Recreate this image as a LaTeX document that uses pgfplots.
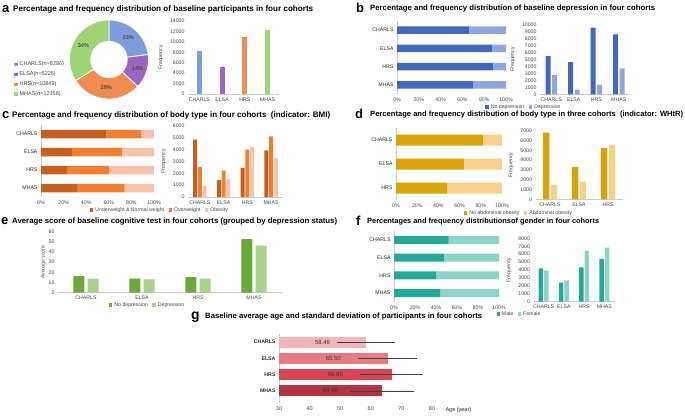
\documentclass[border=0pt]{standalone}
\usepackage{graphicx}
\usepackage{fontspec}
\setmainfont{Liberation Sans}
\usepackage{pgfplots}
\pgfplotsset{compat=1.18}

% panel colours
\definecolor{aCH}{RGB}{124,156,220}
\definecolor{aEL}{RGB}{156,102,190}
\definecolor{aHR}{RGB}{240,140,82}
\definecolor{aMH}{RGB}{160,210,118}
\definecolor{bD}{RGB}{66,103,190}
\definecolor{bL}{RGB}{144,166,222}
\definecolor{cU}{RGB}{197,96,30}
\definecolor{cO}{RGB}{240,128,48}
\definecolor{cB}{RGB}{246,196,170}
\definecolor{dN}{RGB}{214,164,8}
\definecolor{dA}{RGB}{246,208,140}
\definecolor{eN}{RGB}{106,170,58}
\definecolor{eD}{RGB}{168,211,140}
\definecolor{fM}{RGB}{38,168,152}
\definecolor{fF}{RGB}{140,212,200}
\definecolor{gA}{RGB}{240,180,186}
\definecolor{gB}{RGB}{232,122,134}
\definecolor{gC}{RGB}{214,70,86}
\definecolor{gD}{RGB}{178,52,66}

\newcommand\tf{\fontsize{5.2}{6}\selectfont}
\newcommand\ttl[2]{\resizebox{#1}{!}{\bfseries #2}}

\pgfplotsset{
  sq/.style={legend image code/.code={\fill[##1, draw=none] (0pt,-1.7pt) rectangle (3.4pt,1.7pt);}},
  base/.style={
    scale only axis, font=\tf,
    /pgf/number format/assume math mode=true,
    /pgf/number format/1000 sep={},
    scaled y ticks=false, scaled x ticks=false,
    major tick length=0pt,
    tick label style={text=black!72},
    label style={text=black!72},
    axis line style={draw=black!20, line width=0.5pt},
    legend columns=-1,
    legend style={draw=none, fill=none, font=\tf, text=black!72, inner sep=0pt,
      /tikz/every even column/.append style={column sep=2.5pt}},
    every axis plot post/.append style={sq},
  },
  freq/.style={base, ybar, bar width=#1,
    axis x line*=bottom, axis y line*=left, y axis line style={draw=none},
    xmin=-0.5, xmax=3.5, xtick={0,1,2,3}, xticklabels={CHARLS,ELSA,HRS,MHAS},
    ymin=0, ylabel={Frequency}},
  pct/.style={base, xbar stacked, bar width=#1,
    axis x line*=bottom, axis y line*=left, x axis line style={draw=none},
    xmin=0, xmax=100, xtick={0,20,...,100},
    xticklabel={\pgfmathprintnumber{\tick}\%},
    ymin=-0.5, ymax=3.5, ytick={0,1,2,3}, yticklabels={MHAS,HRS,ELSA,CHARLS},
    yticklabel style={text=black!85}},
  ageerr/.style={draw=none, bar shift=0pt,
    error bars/x dir=both, error bars/x explicit,
    error bars/error bar style={draw=black!75, line width=0.5pt},
    error bars/error mark options={draw=black!75, line width=0.5pt, mark size=1.8pt}},
}

% donut shares (per cent)
\pgfmathsetmacro\aA{90}
\pgfmathsetmacro\aB{\aA-3.6*23}
\pgfmathsetmacro\aC{\aB-3.6*14}
\pgfmathsetmacro\aD{\aC-3.6*29}
\pgfmathsetmacro\aE{\aD-3.6*34}

\begin{document}
\begin{tikzpicture}
\path[use as bounding box] (0,0) rectangle (685pt,-416pt);

% ---------- titles ----------
\begin{scope}[every node/.style={inner sep=0pt}]
\node[anchor=base west, font=\fontsize{13}{13}\bfseries] at (2pt,-12.3pt) {a};
\node[anchor=west] at (13pt,-9.5pt) {\ttl{300pt}{Percentage and frequency distribution of baseline participants in four cohorts}};
\node[anchor=base west, font=\fontsize{13}{13}\bfseries] at (356pt,-12.7pt) {b};
\node[anchor=west] at (370pt,-9pt) {\ttl{285pt}{Percentage and frequency distribution of baseline depression in four cohorts}};
\node[anchor=base west, font=\fontsize{13}{13}\bfseries] at (2pt,-118.3pt) {c};
\node[anchor=west] at (12pt,-115pt) {\ttl{318pt}{Percentage and frequency distribution of body type in four cohorts\ \ (indicator: BMI)}};
\node[anchor=base west, font=\fontsize{13}{13}\bfseries] at (355pt,-118.3pt) {d};
\node[anchor=west] at (370pt,-115pt) {\ttl{313pt}{Percentage and frequency distribution of body type in three cohorts\ \ (indicator: WHtR)}};
\node[anchor=base west, font=\fontsize{13}{13}\bfseries] at (1pt,-224.5pt) {e};
\node[anchor=west] at (12pt,-221.5pt) {\ttl{325pt}{Average score of baseline cognitive test in four cohorts (grouped by depression status)}};
\node[anchor=base west, font=\fontsize{13}{13}\bfseries] at (356pt,-225pt) {f};
\node[anchor=west] at (367pt,-221.5pt) {\ttl{232pt}{Percentages and frequency distributionsof gender in four cohorts}};
\node[anchor=base west, font=\fontsize{14}{14}\bfseries] at (191pt,-319.5pt) {g};
\node[anchor=west] at (205pt,-316.5pt) {\ttl{277pt}{Baseline average age and standard deviation of participants in four cohorts}};
\end{scope}

% ---------- a: donut ----------
\begin{axis}[base, at={(69.5pt,-99pt)}, anchor=south west, width=79pt, height=79pt,
  hide axis, xmin=-1, xmax=1, ymin=-1, ymax=1, clip=false,
  legend columns=1,
  legend style={at={(axis description cs:-0.703,0.50)}, anchor=north west,
    font=\fontsize{5.5}{6}\selectfont, row sep=0.4pt, cells={anchor=west}}]
\addplot[fill=aCH, draw=white, line width=0.8pt, domain=\aB:\aA, samples=40] ({cos(x)},{sin(x)}) -- (axis cs:0,0) -- cycle;
\addlegendentry{CHARLS(n=8286)}
\addplot[fill=aEL, draw=white, line width=0.8pt, domain=\aC:\aB, samples=40] ({cos(x)},{sin(x)}) -- (axis cs:0,0) -- cycle;
\addlegendentry{ELSA(n=5225)}
\addplot[fill=aHR, draw=white, line width=0.8pt, domain=\aD:\aC, samples=40] ({cos(x)},{sin(x)}) -- (axis cs:0,0) -- cycle;
\addlegendentry{HRS(n=10849)}
\addplot[fill=aMH, draw=white, line width=0.8pt, domain=\aE:\aD, samples=40] ({cos(x)},{sin(x)}) -- (axis cs:0,0) -- cycle;
\addlegendentry{MHAS(n=12358)}
\addplot[fill=white, draw=none, domain=0:360, samples=90, forget plot] ({0.47*cos(x)},{0.47*sin(x)});
\begin{scope}[every node/.style={font=\fontsize{5.6}{6}\selectfont\bfseries, text=black!70}]
\node at (axis cs:{0.74*cos((\aA+\aB)/2)},{0.74*sin((\aA+\aB)/2)}) {23\%};
\node at (axis cs:{0.76*cos((\aB+\aC)/2)},{0.76*sin((\aB+\aC)/2)}) {14\%};
\node at (axis cs:{0.72*cos((\aC+\aD)/2)},{0.72*sin((\aC+\aD)/2)}) {29\%};
\node at (axis cs:{0.74*cos((\aD+\aE)/2)},{0.74*sin((\aD+\aE)/2)}) {34\%};
\end{scope}
\end{axis}

% ---------- a: bars ----------
\begin{axis}[freq=5pt, at={(188pt,-94pt)}, anchor=south west, width=91pt, height=73pt,
  ymax=14000, ytick={0,2000,...,14000}]
\addplot[fill=aCH, draw=none, bar shift=0pt] coordinates {(0,8286)};
\addplot[fill=aEL, draw=none, bar shift=0pt] coordinates {(1,5225)};
\addplot[fill=aHR, draw=none, bar shift=0pt] coordinates {(2,10849)};
\addplot[fill=aMH, draw=none, bar shift=0pt] coordinates {(3,12358)};
\end{axis}

% ---------- b ----------
\begin{axis}[pct=7.5pt, at={(397pt,-94.15pt)}, anchor=south west, width=109pt, height=73.3pt]
\addplot[fill=bD, draw=none] coordinates {(70,0) (88,1) (87,2) (66,3)};
\addplot[fill=bL, draw=none] coordinates {(30,0) (12,1) (13,2) (34,3)};
\end{axis}
\begin{axis}[freq=5pt, ybar=1.5pt, at={(540pt,-94.3pt)}, anchor=south west, width=90pt, height=70pt,
  ymax=10000, ytick={0,1000,...,10000},
  legend style={at={(axis description cs:-0.178,-0.181)}, anchor=center}]
\addplot[fill=bD, draw=none] coordinates {(0,5470) (1,4600) (2,9520) (3,8570)};
\addlegendentry{No depression}
\addplot[fill=bL, draw=none] coordinates {(0,2760) (1,660) (2,1330) (3,3710)};
\addlegendentry{Depression}
\end{axis}

% ---------- c ----------
\begin{axis}[pct=8.5pt, at={(41pt,-197pt)}, anchor=south west, width=113pt, height=72pt]
\addplot[fill=cU, draw=none] coordinates {(32,0) (23,1) (27.5,2) (58,3)};
\addplot[fill=cO, draw=none] coordinates {(42,0) (37,1) (44,2) (30.5,3)};
\addplot[fill=cB, draw=none] coordinates {(26,0) (40,1) (28.5,2) (11.5,3)};
\end{axis}
\begin{axis}[freq=4pt, ybar=0.8pt, at={(188pt,-197pt)}, anchor=south west, width=95pt, height=71pt,
  ymax=6000, ytick={0,1000,...,6000},
  legend style={at={(axis description cs:-0.295,-0.183)}, anchor=center}]
\addplot[fill=cU, draw=none] coordinates {(0,4850) (1,1430) (2,2460) (3,3950)};
\addlegendentry{Underweight \& Normal weight}
\addplot[fill=cO, draw=none] coordinates {(0,2530) (1,2220) (2,4000) (3,5130)};
\addlegendentry{Overweight}
\addplot[fill=cB, draw=none] coordinates {(0,940) (1,1520) (2,4220) (3,3290)};
\addlegendentry{Obesity}
\end{axis}

% ---------- d ----------
\begin{axis}[pct=11pt, at={(396pt,-200pt)}, anchor=south west, width=106pt, height=72pt,
  ymax=2.5, ytick={0,1,2}, yticklabels={HRS,ELSA,CHARLS}]
\addplot[fill=dN, draw=none] coordinates {(48.5,0) (64,1) (82,2)};
\addplot[fill=dA, draw=none] coordinates {(51.5,0) (36,1) (18,2)};
\end{axis}
\begin{axis}[freq=6.3pt, ybar=1.5pt, at={(535.5pt,-199.3pt)}, anchor=south west, width=87pt, height=68.6pt,
  xmax=2.5, xtick={0,1,2}, xticklabels={CHARLS,ELSA,HRS},
  ymax=7000, ytick={0,1000,...,7000},
  legend style={at={(axis description cs:-0.19,-0.2)}, anchor=center}]
\addplot[fill=dN, draw=none] coordinates {(0,6800) (1,3300) (2,5230)};
\addlegendentry{No abdominal obesity}
\addplot[fill=dA, draw=none] coordinates {(0,1460) (1,1800) (2,5540)};
\addlegendentry{Abdominal obesity}
\end{axis}

% ---------- e ----------
\begin{axis}[freq=11pt, ybar=3.3pt, at={(58pt,-292.7pt)}, anchor=south west, width=224pt, height=61pt,
  ymax=60, ytick={0,10,...,60}, ylabel={Average score},
  ylabel style={xshift=0pt, yshift=-4pt},
  legend style={at={(axis description cs:0.4,-0.2)}, anchor=center}]
\addplot[fill=eN, draw=none] coordinates {(0,16.4) (1,13.8) (2,15.4) (3,52.8)};
\addlegendentry{No depression}
\addplot[fill=eD, draw=none] coordinates {(0,13.8) (1,13.1) (2,13.8) (3,46.2)};
\addlegendentry{Depression}
\end{axis}

% ---------- f ----------
\begin{axis}[pct=8pt, at={(394pt,-302pt)}, anchor=south west, width=105pt, height=71pt]
\addplot[fill=fM, draw=none] coordinates {(44,0) (40,1) (47.5,2) (52,3)};
\addplot[fill=fF, draw=none] coordinates {(56,0) (60,1) (52.5,2) (48,3)};
\end{axis}
\begin{axis}[freq=4.5pt, ybar=1pt, at={(533.5pt,-301.7pt)}, anchor=south west, width=81pt, height=63.4pt,
  ymax=8000, ytick={0,1000,...,8000},
  legend style={at={(axis description cs:-0.173,-0.194)}, anchor=center}]
\addplot[fill=fM, draw=none] coordinates {(0,4210) (1,2400) (2,4340) (3,5390)};
\addlegendentry{Male}
\addplot[fill=fF, draw=none] coordinates {(0,3920) (1,2700) (2,6400) (3,6820)};
\addlegendentry{Female}
\end{axis}

% ---------- g ----------
\begin{axis}[base, xbar, bar width=11pt, at={(279pt,-403.15pt)}, anchor=south west,
  width=153pt, height=69.3pt,
  xmin=30, xmax=80, xtick={30,40,...,80},
  ymin=-0.75, ymax=3.5, ytick={0,1,2,3}, yticklabels={MHAS,HRS,ELSA,CHARLS},
  axis y line*=left, axis x line*=bottom, x axis line style={draw=none},
  yticklabel style={font=\tf\bfseries, text=black!85},
  xticklabel style={font=\fontsize{5.5}{6}\selectfont},
  xlabel={Age (year)},
  xlabel style={at={(axis description cs:1,0)}, anchor=west, xshift=10pt, yshift=-7pt,
    text=black!85, font=\fontsize{5.5}{6}\selectfont},
  point meta=x,
  visualization depends on={x \as \rawx},
  nodes near coords={\pgfmathprintnumber[fixed,fixed zerofill,precision=2]{\pgfplotspointmeta}},
  nodes near coords style={anchor=center, xshift={-1.53*(\rawx-30)*1pt},
    font=\fontsize{6}{7}\selectfont, text=black!78}]
\addplot[ageerr, fill=gA] coordinates {(58.46,3) +- (9.0,0)};
\addplot[ageerr, fill=gB] coordinates {(65.50,2) +- (9.0,0)};
\addplot[ageerr, fill=gC] coordinates {(66.85,1) +- (9.7,0)};
\addplot[ageerr, fill=gD] coordinates {(63.66,0) +- (10.0,0)};
\end{axis}

\end{tikzpicture}
\end{document}
